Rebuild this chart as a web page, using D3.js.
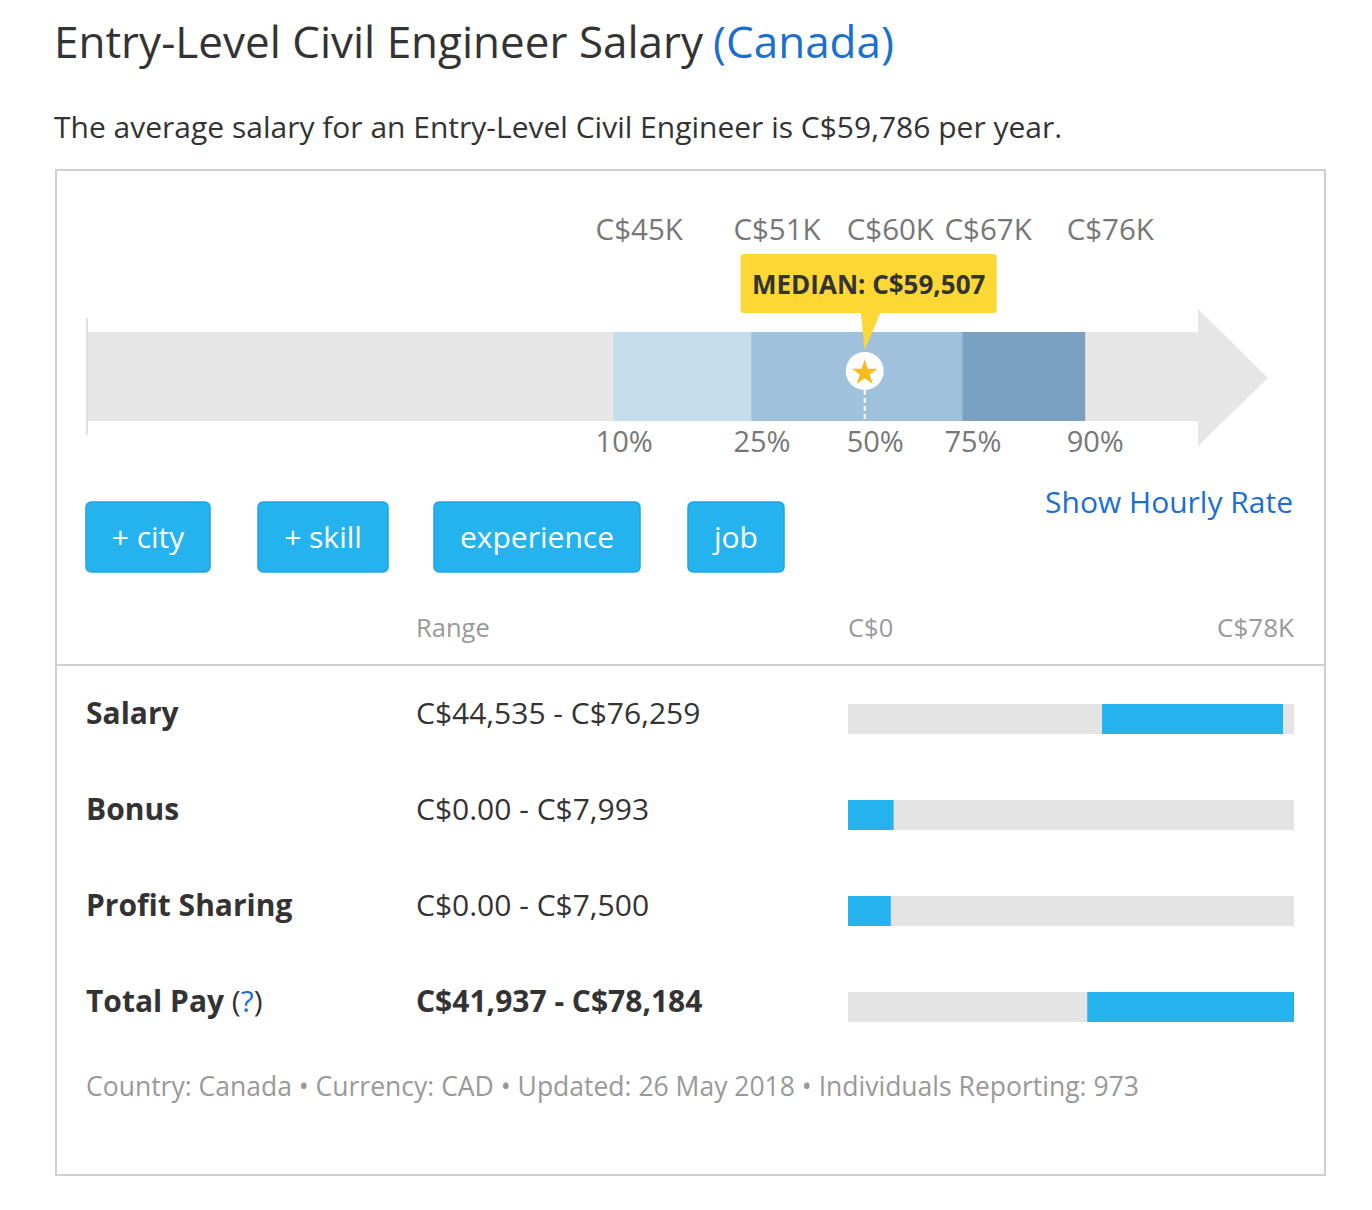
<!DOCTYPE html>
<html>
<head>
<meta charset="utf-8">
<script src="https://cdn.jsdelivr.net/npm/d3@7"></script>
<style>
  html, body { margin: 0; padding: 0; background: #fff; }
  svg { display: block; font-family: "Open Sans", "Noto Sans", sans-serif; }
</style>
</head>
<body>
<svg id="chart" width="1372" height="1210"></svg>
<script>
// ---------- data ----------
const titleMain = "Entry-Level Civil Engineer Salary";
const titleRegion = "(Canada)";
const subtitle = "The average salary for an Entry-Level Civil Engineer is C$59,786 per year.";
const percentiles = ["10%", "25%", "50%", "75%", "90%"];
const percentileValues = [44535, 51000, 59507, 67000, 76259];
const medianValue = 59507;
const buttons = ["+ city", "+ skill", "experience", "job"];
const rowLabels = ["Salary", "Bonus", "Profit Sharing", "Total Pay"];
const rowLow = [44535, 0, 0, 41937];
const rowHigh = [76259, 7993, 7500, 78184];
const rowText = ["C$44,535 - C$76,259", "C$0.00 - C$7,993", "C$0.00 - C$7,500", "C$41,937 - C$78,184"];
const rangeMax = 78184;
const footer = "Country: Canada \u2022 Currency: CAD \u2022 Updated: 26 May 2018 \u2022 Individuals Reporting: 973";

// ---------- drawing ----------
const svg = d3.select("#chart");
const ink = "#333", grey = "#777", lightGrey = "#999", blue = "#1a6fd0", btnBlue = "#25b3f0";

// title
const t = svg.append("text").attr("x", 54).attr("y", 58).attr("font-size", 44).attr("fill", ink);
t.append("tspan").text(titleMain);
t.append("tspan").attr("fill", blue).attr("dx", 10).text(titleRegion);

svg.append("text").attr("x", 54).attr("y", 138).attr("font-size", 30).attr("fill", ink).text(subtitle);

// box
svg.append("rect").attr("x", 56).attr("y", 170).attr("width", 1269).attr("height", 1005)
  .attr("fill", "#fff").attr("stroke", "#cfcfcf").attr("stroke-width", 2);

// ----- percentile arrow -----
const barX0 = 87, barX1 = 1198, barTop = 332, barBot = 421;
const pScale = d3.scaleLinear()
  .domain(percentileValues)
  .range([0.474, 0.598, 0.700, 0.788, 0.898].map(f => barX0 + f * (barX1 - barX0)));

// arrow body + head
svg.append("path")
  .attr("d", `M${barX0},${barTop} L${barX1},${barTop} L${barX1},309 L1268,378 L${barX1},446 L${barX1},${barBot} L${barX0},${barBot} Z`)
  .attr("fill", "#e6e6e6");
svg.append("line").attr("x1", barX0).attr("x2", barX0).attr("y1", 318).attr("y2", 435)
  .attr("stroke", "#e0e0e0").attr("stroke-width", 2);

const segColors = ["#c5dcec", "#9fc1db", "#9fc1db", "#7aa1c2"];
svg.selectAll("rect.seg").data(d3.range(4)).join("rect")
  .attr("class", "seg")
  .attr("x", i => pScale(percentileValues[i]))
  .attr("width", i => pScale(percentileValues[i + 1]) - pScale(percentileValues[i]) + 0.5)
  .attr("y", barTop).attr("height", barBot - barTop)
  .attr("fill", i => segColors[i]);

// value labels above and percent labels below
const kFmt = v => "C$" + Math.round(v / 1000) + "K";
svg.selectAll("text.pv").data(percentileValues).join("text")
  .attr("class", "pv")
  .attr("x", d => pScale(d) - 18).attr("y", 240)
  .attr("font-size", 29.5).attr("fill", grey).text(kFmt);
svg.selectAll("text.pp").data(percentiles).join("text")
  .attr("class", "pp")
  .attr("x", (d, i) => pScale(percentileValues[i]) - 18).attr("y", 452)
  .attr("font-size", 29).attr("fill", grey).text(d => d);

// median marker
const mx = pScale(medianValue);
svg.append("line").attr("x1", mx).attr("x2", mx).attr("y1", 390).attr("y2", barBot)
  .attr("stroke", "#fff").attr("stroke-width", 2).attr("stroke-dasharray", "5,3");
svg.append("ellipse").attr("cx", mx).attr("cy", 371).attr("rx", 19).attr("ry", 19).attr("fill", "#fff");
svg.append("path")
  .attr("d", d3.symbol().type(d3.symbolStar).size(210)())
  .attr("transform", `translate(${mx},373)`)
  .attr("fill", "#f5bd1f");

// tooltip
const tipW = 256, tipH = 59, tipX = mx - 124, tipY = 254;
svg.append("path")
  .attr("d", `M${mx - 4},${tipY + tipH - 1} L${mx + 16},${tipY + tipH - 1} L${mx},350 Z`)
  .attr("fill", "#fdd835");
svg.append("rect").attr("x", tipX).attr("y", tipY).attr("width", tipW).attr("height", tipH)
  .attr("rx", 3).attr("fill", "#fdd835");
svg.append("text").attr("x", tipX + tipW / 2).attr("y", tipY + 40)
  .attr("text-anchor", "middle").attr("font-size", 26).attr("font-weight", 700)
  .attr("fill", ink).text("MEDIAN: C$" + d3.format(",")(medianValue));

// ----- buttons -----
const btnX = [86, 258, 434, 688], btnW = [124, 130, 206, 96];
const btn = svg.selectAll("g.btn").data(buttons).join("g").attr("class", "btn")
  .attr("transform", (d, i) => `translate(${btnX[i]},502)`);
btn.append("rect").attr("width", (d, i) => btnW[i]).attr("height", 70).attr("rx", 5)
  .attr("fill", btnBlue).attr("stroke", "#1fa5e0").attr("stroke-width", 1.5);
btn.append("text").attr("x", (d, i) => btnW[i] / 2).attr("y", 46)
  .attr("text-anchor", "middle").attr("font-size", 30).attr("fill", "#fff").text(d => d);

svg.append("text").attr("x", 1293).attr("y", 513).attr("text-anchor", "end")
  .attr("font-size", 30).attr("fill", blue).text("Show Hourly Rate");

// ----- range table -----
const rx0 = 848, rx1 = 1294;
const rScale = d3.scaleLinear().domain([0, rangeMax]).range([rx0, rx1]);
svg.append("text").attr("x", 416).attr("y", 637).attr("font-size", 25.5).attr("fill", lightGrey).text("Range");
svg.append("text").attr("x", rx0).attr("y", 637).attr("font-size", 25.5).attr("fill", lightGrey)
  .text("C$" + rScale.domain()[0]);
svg.append("text").attr("x", rx1).attr("y", 637).attr("text-anchor", "end").attr("font-size", 26)
  .attr("fill", lightGrey).text(kFmt(rScale.domain()[1]));
svg.append("line").attr("x1", 56).attr("x2", 1324).attr("y1", 665).attr("y2", 665)
  .attr("stroke", "#cfcfcf").attr("stroke-width", 2);

const yRow = d3.scalePoint().domain(rowLabels).range([719, 1007]);
const row = svg.selectAll("g.row").data(rowLabels).join("g").attr("class", "row")
  .attr("transform", d => `translate(0,${yRow(d)})`);
row.append("text").attr("x", 86).attr("y", 5).attr("font-size", 30).attr("font-weight", 700)
  .attr("fill", ink).each(function (d) {
    const s = d3.select(this);
    if (d === "Total Pay") {
      s.append("tspan").text("Total Pay ");
      s.append("tspan").attr("font-weight", 400).text("(");
      s.append("tspan").attr("font-weight", 400).attr("fill", blue).text("?");
      s.append("tspan").attr("font-weight", 400).text(")");
    } else s.text(d);
  });
row.append("text").attr("x", 416).attr("y", 5).attr("font-size", 30)
  .attr("font-weight", (d, i) => i === 3 ? 700 : 400).attr("fill", ink)
  .text((d, i) => rowText[i]);
row.append("rect").attr("x", rx0).attr("y", -15).attr("width", rx1 - rx0).attr("height", 30).attr("fill", "#e4e4e4");
row.append("rect").attr("x", (d, i) => rScale(rowLow[i])).attr("y", -15)
  .attr("width", (d, i) => rScale(rowHigh[i]) - rScale(rowLow[i])).attr("height", 30).attr("fill", btnBlue);

svg.append("text").attr("x", 86).attr("y", 1096).attr("font-size", 26.5).attr("fill", lightGrey).text(footer);
</script>
</body>
</html>
